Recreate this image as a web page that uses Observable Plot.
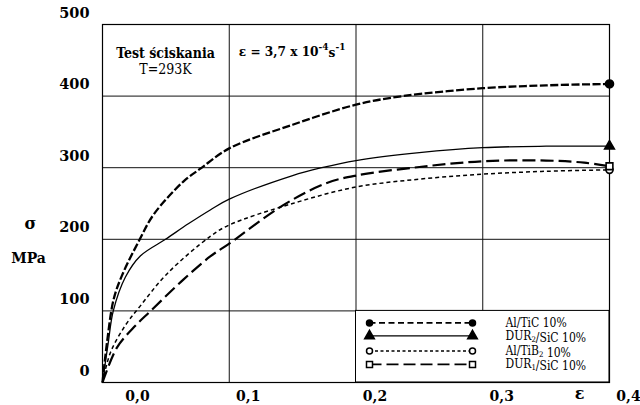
<!DOCTYPE html>
<html>
<head>
<meta charset="utf-8">
<script src="https://cdn.jsdelivr.net/npm/d3@7"></script>
<script src="https://cdn.jsdelivr.net/npm/@observablehq/plot@0.6"></script>
<style>
  html, body { margin: 0; padding: 0; background: #fff; }
  #chart svg { display: block; }
  #chart svg text { font-family: "DejaVu Serif", serif; }
  #chart svg text.cond, #chart svg .cond text { font-family: "DejaVu Serif Condensed", "DejaVu Serif", serif; font-stretch: condensed; }
</style>
</head>
<body>
<div id="chart"></div>
<script>
// ---- data ----
const seriesNames = ["Al/TiC 10%", "DUR₂/SiC 10%", "Al/TiB₂ 10%", "DUR₁/SiC 10%"];

const strainAlTiC = [0, 0.0037, 0.0089, 0.0155, 0.0294, 0.0405, 0.064, 0.0775, 0.1, 0.15, 0.2, 0.237, 0.3, 0.35, 0.4];
const stressAlTiC = [0, 58, 117, 150, 200, 235, 281, 299, 327, 360, 388, 400, 411, 415, 417];

const strainDUR2 = [0, 0.0045, 0.0085, 0.018, 0.03, 0.0497, 0.068, 0.085, 0.1, 0.15, 0.173, 0.2, 0.25, 0.3, 0.35, 0.4];
const stressDUR2 = [0, 55, 100, 147, 177, 200, 222, 241, 256, 289, 300, 310, 321, 328, 330, 330];

const strainAlTiB2 = [0, 0.0063, 0.0181, 0.0294, 0.051, 0.085, 0.1, 0.15, 0.2, 0.25, 0.3, 0.35, 0.4];
const stressAlTiB2 = [0, 42, 80, 106, 152, 204, 220, 250, 273, 284, 291, 295, 297];

const strainDUR1 = [0, 0.0115, 0.0247, 0.038, 0.064, 0.085, 0.1, 0.142, 0.176, 0.2, 0.25, 0.3, 0.35, 0.38, 0.4];
const stressDUR1 = [0, 49, 77, 100, 144, 176, 194, 247, 278, 289, 301, 309, 310, 307, 302];

const xTicks = [0, 0.1, 0.2, 0.3, 0.4];
const xTickLabels = ["0,0", "0,1", "0,2", "0,3", "0,4"];
const yTicks = [0, 100, 200, 300, 400, 500];

const titleLine1 = "Test ściskania";
const titleLine2 = "T=293K";
const rateParts = ["ε = 3,7 x 10", "-4", "s", "-1"];
const yLabel1 = "σ";
const yLabel2 = "MPa";
const xLabel = "ε";

// ---- build tables ----
const strains = [strainAlTiC, strainDUR2, strainAlTiB2, strainDUR1];
const stresses = [stressAlTiC, stressDUR2, stressAlTiB2, stressDUR1];
const rows = seriesNames.map((name, i) =>
  strains[i].map((s, j) => ({series: name, strain: s, stress: stresses[i][j]})));

const styles = [
  {strokeWidth: 2.3, dash: "8,2.5", legendDash: "6,3.5", symbol: "circle", fill: "black", r: 4},
  {strokeWidth: 1.3, dash: null, legendDash: null, symbol: "triangle", fill: "black", r: 3.6},
  {strokeWidth: 1.5, dash: "4,3", legendDash: "3,2.5", symbol: "circle", fill: "white", r: 3.5},
  {strokeWidth: 2.2, dash: "13,5", legendDash: "12,5", symbol: "square", fill: "white", r: 3.8}
];
const legendRowOffsets = [12.5, 25.5, 40.5, 54];

const FONT = "DejaVu Serif, serif";

// subscript-aware text writer
function writeRich(textSel, str, size) {
  const subMap = {"₀":"0","₁":"1","₂":"2","₃":"3"};
  let buf = "";
  const flush = () => { if (buf) { textSel.append("tspan").text(buf); buf = ""; } };
  for (const ch of str) {
    if (subMap[ch]) {
      flush();
      textSel.append("tspan").attr("dy", 2).attr("font-size", size * 0.65).text(subMap[ch]);
      textSel.append("tspan").attr("dy", -2).text("");
    } else buf += ch;
  }
  flush();
}

function legendMark(index, scales) {
  const x0 = scales.x(xTicks[2]), x1 = scales.x(xTicks[4]);
  const y0 = scales.y(yTicks[1]), y1 = scales.y(yTicks[0]);
  const g = d3.create("svg:g");
  g.append("rect").attr("x", x0).attr("y", y0).attr("width", x1 - x0).attr("height", y1 - y0)
    .attr("fill", "white").attr("stroke", "black").attr("stroke-width", 1);
  seriesNames.forEach((name, i) => {
    const st = styles[i];
    const yy = y0 + legendRowOffsets[i];
    const lx1 = x0 + 14, lx2 = x0 + 117;
    g.append("line").attr("x1", lx1).attr("x2", lx2).attr("y1", yy).attr("y2", yy)
      .attr("stroke", "black").attr("stroke-width", Math.min(st.strokeWidth, 1.6))
      .attr("stroke-dasharray", st.legendDash);
    for (const lx of [lx1, lx2]) {
      const type = st.symbol === "circle" ? d3.symbolCircle : st.symbol === "triangle" ? d3.symbolTriangle : d3.symbolSquare;
      const size = st.symbol === "circle" ? Math.PI * 3 * 3 : st.symbol === "triangle" ? 40 : 36;
      g.append("path").attr("d", d3.symbol(type, size)()).attr("transform", `translate(${lx},${yy})`)
        .attr("fill", st.fill).attr("stroke", "black").attr("stroke-width", 1.5);
    }
    const t = g.append("text").attr("class", "cond").attr("x", x0 + 150).attr("y", yy + 4)
      .attr("text-anchor", "start").attr("font-size", 12).attr("fill", "black");
    writeRich(t, name, 12);
  });
  return g.node();
}

function rateMark(index, scales) {
  const cx = (scales.x(xTicks[1]) + scales.x(xTicks[2])) / 2;
  const yTop = scales.y(yTicks[5]);
  const t = d3.create("svg:text").attr("class", "cond").attr("x", cx).attr("y", yTop + 32)
    .attr("text-anchor", "middle").attr("font-size", 13.5)
    .attr("font-weight", "bold").attr("fill", "black");
  t.append("tspan").text(rateParts[0]);
  t.append("tspan").attr("dy", -6).attr("font-size", 10).text(rateParts[1]);
  t.append("tspan").attr("dy", 6.5).text(rateParts[2]);
  t.append("tspan").attr("dy", -7).attr("font-size", 10).text(rateParts[3]);
  return t.node();
}

const lineMarks = rows.map((data, i) => Plot.line(data, {
  x: "strain", y: "stress", curve: "catmull-rom", stroke: "black",
  strokeWidth: styles[i].strokeWidth, strokeDasharray: styles[i].dash || undefined,
  strokeLinecap: "butt"
}));
const endMarks = rows.map((data, i) => Plot.dot(data.slice(-1), {
  x: "strain", y: "stress", symbol: styles[i].symbol, r: styles[i].r,
  fill: styles[i].fill, stroke: "black", strokeWidth: 1.6
}));

const tickFmt = d => xTickLabels[xTicks.indexOf(d)];
const txt = {fontWeight: "bold"};

const chart = Plot.plot({
  width: 640,
  height: 405,
  marginLeft: 102,
  marginRight: 31,
  marginTop: 24,
  marginBottom: 23,
  style: {fontFamily: FONT, fontSize: "15px", background: "white", color: "black"},
  x: {domain: [xTicks[0], xTicks[4]]},
  y: {domain: [yTicks[0], yTicks[5]]},
  marks: [
    Plot.gridX(xTicks.slice(1, 4), {stroke: "#111", strokeOpacity: 1, strokeWidth: 1}),
    Plot.gridY(yTicks.slice(1, 5), {stroke: "#111", strokeOpacity: 1, strokeWidth: 1}),
    legendMark,
    Plot.frame({stroke: "black", strokeWidth: 1.2}),
    ...lineMarks,
    ...endMarks,
    Plot.axisY(yTicks, {...txt, tickSize: 0, tickPadding: 13, dy: -11.5, fontSize: 14.5, label: null}),
    Plot.axisX(xTicks.slice(0, 1), {...txt, tickSize: 0, tickPadding: 9, dx: 35, fontSize: 14, tickFormat: tickFmt, label: null}),
    Plot.axisX(xTicks.slice(1), {...txt, tickSize: 0, tickPadding: 9, dx: 19, fontSize: 14, tickFormat: tickFmt, label: null}),
    Plot.text([xLabel], {...txt, frameAnchor: "bottom-right", textAnchor: "middle", dx: -30, dy: 16, fontSize: 16, text: d => d}),
    Plot.text([yLabel1], {...txt, frameAnchor: "top-left", textAnchor: "middle", dx: -72, dy: 193, fontSize: 16, text: d => d}),
    Plot.text([yLabel2], {...txt, frameAnchor: "top-left", textAnchor: "middle", dx: -74, dy: 229, fontSize: 14, text: d => d}),
    Plot.text([titleLine1], {...txt, className: "cond", frameAnchor: "top-left", textAnchor: "middle", dx: 63, dy: 24, fontSize: 14, text: d => d}),
    Plot.text([titleLine2], {className: "cond", frameAnchor: "top-left", textAnchor: "middle", dx: 63, dy: 39.5, fontSize: 14, text: d => d}),
    rateMark
  ]
});
document.getElementById("chart").appendChild(chart);
</script>
</body>
</html>
